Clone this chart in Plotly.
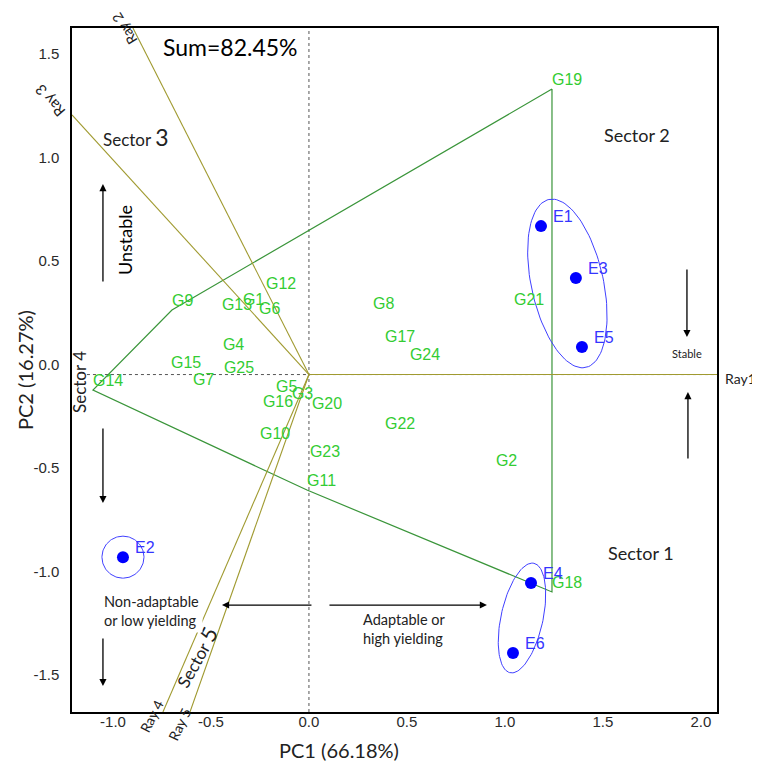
import numpy as np
import plotly.graph_objects as go

# ---------------- data ----------------
genotypes = ["G1", "G2", "G3", "G4", "G5", "G6", "G7", "G8", "G9", "G10",
             "G11", "G12", "G13", "G14", "G15", "G16", "G17", "G18", "G19", "G20",
             "G21", "G22", "G23", "G24", "G25"]
g_pc1 = [-0.337, 0.954, -0.087, -0.439, -0.168, -0.255, -0.592, 0.327, -0.699, -0.250,
         -0.010, -0.219, -0.444, -1.102, -0.704, -0.235, 0.388, 1.240, 1.240, 0.015,
         1.046, 0.388, 0.005, 0.515, -0.434]
g_pc2 = [0.316, -0.461, -0.138, 0.099, -0.104, 0.273, -0.070, 0.297, 0.312, -0.331,
         -0.558, 0.394, 0.292, -0.075, 0.012, -0.176, 0.138, -1.050, 1.379, -0.186,
         0.316, -0.283, -0.418, 0.051, -0.012]

environments = ["E1", "E2", "E3", "E4", "E5", "E6"]
e_pc1 = [1.184, -0.949, 1.362, 1.133, 1.393, 1.041]
e_pc2 = [0.717, -0.882, 0.466, -1.007, 0.133, -1.345]

hull_order = ["G19", "G18", "G11", "G14", "G9", "G19"]

ray_names = ["Ray1", "Ray 2", "Ray 3", "Ray 4", "Ray 5"]
ray_end_pc1 = [2.082, -0.898, -1.209, -0.745, -0.607]
ray_end_pc2 = [0.0, 1.674, 1.254, -1.630, -1.630]

x_tickvals = [-1.0, -0.5, 0.0, 0.5, 1.0, 1.5, 2.0]
x_ticktext = ["-1.0", "-0.5", "0.0", "0.5", "1.0", "1.5", "2.0"]
y_tickvals = [-1.5, -1.0, -0.5, 0.0, 0.5, 1.0, 1.5]
y_ticktext = ["-1.5", "-1.0", "-0.5", "0.0", "0.5", "1.0", "1.5"]

pc1_pct = 66.18
pc2_pct = 16.27

# ---------------- layout geometry ----------------
# the page body has an 8px margin, so the figure is drawn 8px smaller
W, H = 752, 759
ML, MR, MT, MB = 64, 43, 20, 55
PW, PH = W - ML - MR, H - MT - MB
X_RANGE = [-1.209, 2.082]
Y_RANGE = [-1.630, 1.674]
PX_X = PW / (X_RANGE[1] - X_RANGE[0])
PX_Y = PH / (Y_RANGE[1] - Y_RANGE[0])
# reference-screen position of plot area (for placing free text)
REF_L, REF_B = 72, 712

GREEN_TXT = "#33cc33"
HULL_COL = "#3a953a"
RAY_COL = "#a09a30"
BLUE = "#0000ff"
BLUE_LINE = "#4040ff"
CAL = "Lato, 'Open Sans', sans-serif"
ARIAL = "'Liberation Sans', Arial, sans-serif"

gx = dict(zip(genotypes, g_pc1))
gy = dict(zip(genotypes, g_pc2))
ex = dict(zip(environments, e_pc1))
ey = dict(zip(environments, e_pc2))


def px2x(p):
    return (p - 309) / PX_X


def py2y(p):
    return (374.5 - p) / PX_Y


fig = go.Figure()

# zero reference lines
fig.add_shape(type="line", x0=0, x1=0, y0=Y_RANGE[0], y1=Y_RANGE[1],
              line=dict(color="#555555", width=1, dash="dot"), layer="below")
fig.add_shape(type="line", x0=px2x(87), x1=X_RANGE[1], y0=0, y1=0,
              line=dict(color="#555555", width=1, dash="dot"), layer="below")

# polygon (which-won-where hull)
fig.add_trace(go.Scatter(
    x=[gx[g] for g in hull_order], y=[gy[g] for g in hull_order],
    mode="lines", line=dict(color=HULL_COL, width=1.2),
    hoverinfo="skip", showlegend=False))

# rays from origin
rx, ry = [], []
for xe, ye in zip(ray_end_pc1, ray_end_pc2):
    rx += [0, xe, None]
    ry += [0, ye, None]
fig.add_trace(go.Scatter(x=rx, y=ry, mode="lines",
                         line=dict(color=RAY_COL, width=1.1),
                         hoverinfo="skip", showlegend=False))


# ellipses around environment groups (sizes in px, tilt in degrees)
def ellipse(cx, cy, a_px, b_px, tilt_deg, n=120):
    t = np.linspace(0, 2 * np.pi, n)
    th = np.deg2rad(tilt_deg)
    ux, uy = -np.sin(th), np.cos(th)
    vx, vy = np.cos(th), np.sin(th)
    dx = a_px * np.cos(t) * ux + b_px * np.sin(t) * vx
    dy = a_px * np.cos(t) * uy + b_px * np.sin(t) * vy
    return cx + dx / PX_X, cy + dy / PX_Y


ell_groups = [["E1", "E3", "E5"], ["E4", "E6"], ["E2"]]
ell_shift = [(0.03, 0.015), (0.0, 0.0), (0.0, 0.0)]
ell_a = [86, 56, 21]
ell_b = [36, 21, 21]
ell_tilt = [12.4, -12.3, 0]
for grp, sh, a, b, tl in zip(ell_groups, ell_shift, ell_a, ell_b, ell_tilt):
    cx = (max(ex[e] for e in grp) + min(ex[e] for e in grp)) / 2 + sh[0]
    cy = (max(ey[e] for e in grp) + min(ey[e] for e in grp)) / 2 + sh[1]
    xs, ys = ellipse(cx, cy, a, b, tl)
    fig.add_trace(go.Scatter(x=xs, y=ys, mode="lines",
                             line=dict(color=BLUE_LINE, width=1),
                             hoverinfo="skip", showlegend=False))

# genotype labels
fig.add_trace(go.Scatter(
    x=g_pc1, y=g_pc2, text=genotypes, mode="text", textposition="top right",
    textfont=dict(family=ARIAL, size=16, color=GREEN_TXT),
    cliponaxis=False, showlegend=False))

# environment points
fig.add_trace(go.Scatter(
    x=e_pc1, y=e_pc2, mode="markers",
    marker=dict(color=BLUE, size=12), showlegend=False))

ann = []
for e in environments:
    ann.append(dict(x=ex[e], y=ey[e], xref="x", yref="y", text=e,
                    showarrow=False, xanchor="left", yanchor="middle",
                    xshift=10, yshift=10,
                    font=dict(family=ARIAL, size=16, color="#3535ff")))


def txt(xp, yp, text, size, angle=0, color="#222222", bg=None, family=CAL,
        align="center", xanchor="center", pad=1):
    d = dict(x=(xp - REF_L) / PW, y=(REF_B - yp) / PH, xref="paper",
             yref="paper", text=text, showarrow=False, textangle=angle,
             align=align, xanchor=xanchor, yanchor="middle",
             font=dict(family=family, size=size, color=color), borderpad=pad)
    if bg:
        d["bgcolor"] = bg
    ann.append(d)


def arrow(x0p, y0p, x1p, y1p):
    ann.append(dict(x=px2x(x1p), y=py2y(y1p), ax=px2x(x0p), ay=py2y(y0p),
                    xref="x", yref="y", axref="x", ayref="y", text="",
                    showarrow=True, arrowhead=2, arrowsize=1.1,
                    arrowwidth=1.3, arrowcolor="black"))


txt(230, 47, "Sum=82.45%", 23, color="black")
txt(135, 137, "Sector <span style='font-size:23px'>3</span>", 17)
txt(637, 135, "Sector 2", 18)
txt(641, 553, "Sector 1", 18)
txt(79, 382, "Sector 4", 17, angle=-90)
txt(195, 657, "Sector <span style='font-size:22px'>5</span>", 17, angle=-61)
txt(125, 240, "Unstable", 18, angle=-90, color="black")
txt(687, 353, "Stable", 11)
txt(100, 611, "Non-adaptable<br>or low yielding", 14.5, bg="white",
    align="left", xanchor="left", pad=3)
txt(361, 629, "Adaptable or<br>high yielding", 14.5, align="left",
    xanchor="left")
txt(740, 378, ray_names[0], 14)
txt(124, 29, ray_names[1], 14, angle=-122)
txt(50, 101, ray_names[2], 15, angle=-131)
txt(151, 716, ray_names[3], 14, angle=-63)
txt(179, 724, ray_names[4], 14, angle=-65)
txt(339, 750, f"PC1 ({pc1_pct:.2f}%)", 20, color="#222222")
txt(25, 370, f"PC2 ({pc2_pct:.2f}%)", 20, angle=-90, color="#222222")

arrow(103, 283, 103, 184)
arrow(103, 427, 103, 503)
arrow(103, 637, 103, 686)
arrow(313, 605, 222, 605)
arrow(328, 605, 487, 605)
arrow(687, 268, 687, 337)
arrow(688, 460, 688, 392)

fig.update_layout(
    width=W, height=H, autosize=False,
    margin=dict(l=ML, r=MR, t=MT, b=MB, pad=0),
    paper_bgcolor="white", plot_bgcolor="white",
    annotations=ann, showlegend=False,
    xaxis=dict(range=X_RANGE, showgrid=False, zeroline=False, showline=True,
               mirror=True, linecolor="black", linewidth=1.5, ticks="",
               tickvals=x_tickvals, ticktext=x_ticktext,
               ticklabelstandoff=-5,
               tickfont=dict(family=ARIAL, size=15, color="#2a2a2a")),
    yaxis=dict(range=Y_RANGE, showgrid=False, zeroline=False, showline=True,
               mirror=True, linecolor="black", linewidth=1.5, ticks="",
               tickvals=y_tickvals, ticktext=y_ticktext, ticklabelshift=-10,
               ticklabelstandoff=8,
               tickfont=dict(family=ARIAL, size=15, color="#2a2a2a")),
)

fig.write_html("out.html")
